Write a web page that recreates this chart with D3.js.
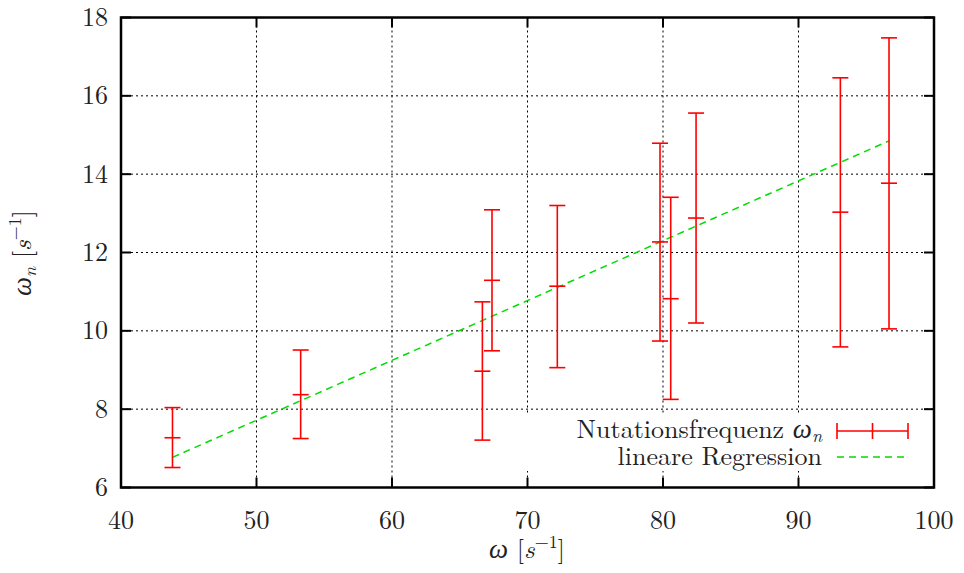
<!DOCTYPE html>
<html><head><meta charset="utf-8">
<script src="https://cdn.jsdelivr.net/npm/d3@7/dist/d3.min.js"></script>
<style>body{margin:0;background:#fff}svg{display:block}</style>
</head><body><svg id="c" width="964" height="573"></svg>
<script>
// data
const omega   = [43.8, 53.26, 66.67, 67.38, 72.2, 79.78, 80.57, 82.44, 93.09, 96.68];
const omegaN  = [7.27, 8.37, 8.97, 11.29, 11.14, 12.27, 10.82, 12.88, 13.03, 13.77];
const errLow  = [6.51, 7.25, 7.21, 9.49, 9.06, 9.74, 8.25, 10.2, 9.59, 10.05];
const errHigh = [8.04, 9.51, 10.74, 13.09, 13.2, 14.79, 13.41, 15.56, 16.46, 17.48];
const regX = [43.8, 96.68];
const regY = [6.77, 14.85];
const xTicks = [40, 50, 60, 70, 80, 90, 100];
const yTicks = [6, 8, 10, 12, 14, 16, 18];

const svg = d3.select("#c");
const FONT = '"Latin Modern Roman", "Liberation Serif", serif';
const GREEK = '"Liberation Serif", "Latin Modern Roman", serif';
const L = 121, R = 934, T = 17.5, B = 487.5;
const x = d3.scaleLinear().domain([40, 100]).range([L, R]);
const y = d3.scaleLinear().domain([6, 18]).range([B, T]);
const FS = 26, SUB = 18, TXT = "#222";
const txt = sel => sel.style("font-family", FONT).attr("fill", TXT).attr("font-size", FS);
const greek = (sel, s) => sel.append("tspan").style("font-family", GREEK).attr("font-style", "italic").attr("font-size", 27).text(s);

// grid
const grid = svg.append("g").attr("stroke", "#000").attr("stroke-width", 1).attr("stroke-dasharray", "2,3");
grid.selectAll(".gx").data(xTicks.slice(1, -1)).join("line")
  .attr("x1", d => x(d)).attr("x2", d => x(d)).attr("y1", B).attr("y2", T);
grid.selectAll(".gy").data(yTicks.slice(1, -1)).join("line")
  .attr("y1", d => y(d)).attr("y2", d => y(d)).attr("x1", L).attr("x2", R);

// legend background (opaque key)
svg.append("rect").attr("x", 522).attr("y", 413).attr("width", 408).attr("height", 58).attr("fill", "#fff");

// ticks (inward, mirrored)
const tk = svg.append("g").attr("stroke", "#000").attr("stroke-width", 2);
xTicks.forEach(d => {
  tk.append("line").attr("x1", x(d)).attr("x2", x(d)).attr("y1", B).attr("y2", B - 10);
  tk.append("line").attr("x1", x(d)).attr("x2", x(d)).attr("y1", T).attr("y2", T + 10);
});
yTicks.forEach(d => {
  tk.append("line").attr("y1", y(d)).attr("y2", y(d)).attr("x1", L).attr("x2", L + 10);
  tk.append("line").attr("y1", y(d)).attr("y2", y(d)).attr("x1", R).attr("x2", R - 10);
});

// border
svg.append("rect").attr("x", L).attr("y", T).attr("width", R - L).attr("height", B - T)
  .attr("fill", "none").attr("stroke", "#000").attr("stroke-width", 2.5);

// tick labels
svg.append("g").selectAll("text").data(xTicks).join("text").call(txt)
  .attr("x", d => x(d)).attr("y", 529).attr("text-anchor", "middle").text(d => d);
svg.append("g").selectAll("text").data(yTicks).join("text").call(txt)
  .attr("x", 108).attr("y", d => y(d) + 8.5).attr("text-anchor", "end").text(d => d);

// axis titles
const xt = svg.append("text").call(txt).attr("x", 527).attr("y", 558).attr("text-anchor", "middle");
greek(xt, "ω");
xt.append("tspan").text(" [");
xt.append("tspan").attr("font-style", "italic").text("s");
xt.append("tspan").attr("font-size", SUB).attr("dy", -10).text("−1");
xt.append("tspan").attr("dy", 10).text("]");

const yt = svg.append("text").call(txt).attr("transform", "translate(31,253) rotate(-90)").attr("text-anchor", "middle");
greek(yt, "ω");
yt.append("tspan").attr("font-style", "italic").attr("font-size", SUB).attr("dy", 5).text("n");
yt.append("tspan").attr("dy", -5).text(" [");
yt.append("tspan").attr("font-style", "italic").text("s");
yt.append("tspan").attr("font-size", SUB).attr("dy", -10).text("−1");
yt.append("tspan").attr("dy", 10).text("]");

// regression line
svg.append("line")
  .attr("x1", x(regX[0])).attr("y1", y(regY[0])).attr("x2", x(regX[1])).attr("y2", y(regY[1]))
  .attr("stroke", "#00dd00").attr("stroke-width", 1.5).attr("stroke-dasharray", "7,5");

// error bars
const red = "#ff0000", cap = 8;
const eb = svg.append("g").attr("stroke", red).attr("stroke-width", 1.6);
omega.forEach((w, i) => {
  const cx = x(w);
  eb.append("line").attr("x1", cx).attr("x2", cx).attr("y1", y(errLow[i])).attr("y2", y(errHigh[i]));
  eb.append("line").attr("x1", cx - cap).attr("x2", cx + cap).attr("y1", y(errLow[i])).attr("y2", y(errLow[i]));
  eb.append("line").attr("x1", cx - cap).attr("x2", cx + cap).attr("y1", y(errHigh[i])).attr("y2", y(errHigh[i]));
  eb.append("line").attr("x1", cx - cap).attr("x2", cx + cap).attr("y1", y(omegaN[i])).attr("y2", y(omegaN[i]));
});

// legend
const lx = 822, s0 = 837, s1 = 908, r1 = 431, r2 = 457;
const t1 = svg.append("text").call(txt).attr("x", lx).attr("y", r1 + 7).attr("text-anchor", "end");
t1.append("tspan").text("Nutationsfrequenz ");
greek(t1, "ω");
t1.append("tspan").attr("font-style", "italic").attr("font-size", SUB).attr("dy", 4).text("n");
svg.append("text").call(txt).attr("x", lx).attr("y", r2 + 8).attr("text-anchor", "end").text("lineare Regression");
const lg = svg.append("g").attr("stroke", red).attr("stroke-width", 1.6);
lg.append("line").attr("x1", s0).attr("x2", s1).attr("y1", r1).attr("y2", r1);
[s0, s1, (s0 + s1) / 2].forEach(px => lg.append("line").attr("x1", px).attr("x2", px).attr("y1", r1 - cap).attr("y2", r1 + cap));
svg.append("line").attr("x1", s0).attr("x2", s1).attr("y1", r2).attr("y2", r2)
  .attr("stroke", "#00dd00").attr("stroke-width", 1.5).attr("stroke-dasharray", "7,5");
</script></body></html>
